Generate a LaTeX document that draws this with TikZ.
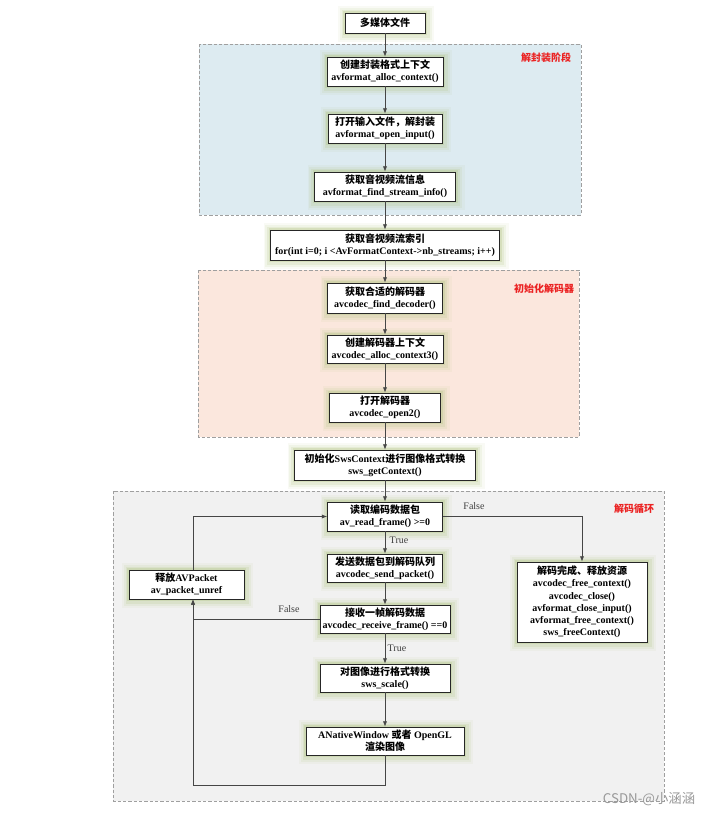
\documentclass[tikz,border=0pt]{standalone}
\usepackage{fontspec}
\setmainfont{Liberation Serif}
\newfontfamily\zhf{Noto Sans CJK SC}
\newcommand\zh[1]{{\zhf #1}}
\usetikzlibrary{arrows.meta}
\definecolor{glowc}{RGB}{178,196,130}
\definecolor{bluebg}{RGB}{221,235,241}
\definecolor{orangebg}{RGB}{251,231,221}
\definecolor{graybg}{RGB}{241,241,241}
\definecolor{redlab}{RGB}{235,35,35}
\definecolor{linec}{RGB}{70,70,70}
\tikzset{
  wh/.style 2 args={minimum width={#1*0.75pt},minimum height={#2*0.75pt}},
  box/.style={draw=black!85, line width=0.55pt, fill=white, inner sep=0.5pt, align=center,
    font=\bfseries\fontsize{7.5}{9.2}\selectfont,
    preaction={draw=glowc, line width=12pt, draw opacity=0.08, transform canvas={shift={(0.8pt,-0.8pt)}}},
    preaction={draw=glowc, line width=9pt, draw opacity=0.12, transform canvas={shift={(0.6pt,-0.6pt)}}},
    preaction={draw=glowc, line width=6pt, draw opacity=0.18, transform canvas={shift={(0.4pt,-0.4pt)}}},
    preaction={draw=glowc, line width=3pt, draw opacity=0.3}},
  region/.style={draw=gray!75, line width=0.6pt, dash pattern=on 2.5pt off 1.5pt},
  sec/.style={text=redlab, font=\bfseries\fontsize{7.5}{9}\selectfont, inner sep=0pt},
  cond/.style={text=black!75, font=\fontsize{7.5}{9}\selectfont, inner sep=0pt},
  arr/.style={draw=linec, line width=0.55pt, -{Latex[length=4pt,width=3.2pt]}},
}
\begin{document}
\begin{tikzpicture}[x=0.75pt,y=-0.75pt]
\useasboundingbox (0,0) rectangle (713,815);
% regions
\path[region, fill=bluebg] (199,44) rectangle (581,215);
\path[region, fill=orangebg] (198,270) rectangle (579,437);
\path[region, fill=graybg] (113,491) rectangle (664,801);
\node[sec] (s1) at (546,58) {\zh{解封装阶段}};
\node[sec] (s2) at (544,289) {\zh{初始化解码器}};
\node[sec] (s3) at (634,509) {\zh{解码循环}};
% nodes
\node[box, wh={80}{20}] (n0) at (385,23) {\zh{多媒体文件}};
\node[box, wh={116}{29}] (n1) at (385,71.5) {\zh{创建封装格式上下文}\\avformat\_alloc\_context()};
\node[box, wh={114}{29}] (n2) at (385,128.5) {\zh{打开输入文件，解封装}\\avformat\_open\_input()};
\node[box, wh={141}{29}] (n3) at (385,186.5) {\zh{获取音视频流信息}\\avformat\_find\_stream\_info()};
\node[box, wh={229}{30}] (n4) at (385,245) {\zh{获取音视频流索引}\\for(int i=0; i <AvFormatContext->nb\_streams; i++)};
\node[box, wh={115}{30}] (n5) at (385,298) {\zh{获取合适的解码器}\\avcodec\_find\_decoder()};
\node[box, wh={116}{28}] (n6) at (385,349) {\zh{创建解码器上下文}\\avcodec\_alloc\_context3()};
\node[box, wh={111}{29}] (n7) at (385,407.5) {\zh{打开解码器}\\avcodec\_open2()};
\node[box, wh={181}{30}] (n8) at (385,465) {\zh{初始化}SwsContext\zh{进行图像格式转换}\\sws\_getContext()};
\node[box, wh={115}{29}] (r1) at (385,516.5) {\zh{读取编码数据包}\\av\_read\_frame() >=0};
\node[box, wh={115}{28}] (r2) at (385,568) {\zh{发送数据包到解码队列}\\avcodec\_send\_packet()};
\node[box, wh={130}{28}] (r3) at (385,619) {\zh{接收一帧解码数据}\\avcodec\_receive\_frame() ==0};
\node[box, wh={130}{28}] (r4) at (385,678) {\zh{对图像进行格式转换}\\sws\_scale()};
\node[box, wh={158}{28}] (r5) at (385,741) {ANativeWindow \zh{或者} OpenGL\\\zh{渲染图像}};
\node[box, wh={115}{29}] (pk) at (186.5,584.5) {\zh{释放}AVPacket\\av\_packet\_unref};
\node[box, wh={130}{80}] (fin) at (582,602) {\zh{解码完成、释放资源}\\avcodec\_free\_context()\\avcodec\_close()\\avformat\_close\_input()\\avformat\_free\_context()\\sws\_freeContext()};
% main flow
\draw[arr] (n0) -- (n1);
\draw[arr] (n1) -- (n2);
\draw[arr] (n2) -- (n3);
\draw[arr] (n3) -- (n4);
\draw[arr] (n4) -- (n5);
\draw[arr] (n5) -- (n6);
\draw[arr] (n6) -- (n7);
\draw[arr] (n7) -- (n8);
\draw[arr] (n8) -- (r1);
\draw[arr] (r1) -- (r2);
\draw[arr] (r2) -- (r3);
\draw[arr] (r3) -- (r4);
\draw[arr] (r4) -- (r5);
\node[cond] (t1) at (399,540) {True};
\node[cond] (t2) at (397,648) {True};
% false branches
\draw[arr] (r1.east) -| (fin.north);
\node[cond] (f1) at (474,506) {False};
\coordinate (lx) at (193,0);
\coordinate (bot) at (0,785);
\draw[arr] (r3.west) -| (pk.south -| lx);
\node[cond] (f2) at (289,609) {False};
\draw[arr] (pk.north -| lx) |- (r1.west);
\draw[arr] (r5.south) |- (bot -| lx) -- (pk.south -| lx);
% watermark
\node[text=gray!80, font=\zhf\fontsize{10}{12}\selectfont, inner sep=0pt] (wm) at (649,799) {CSDN-@小涵涵};
\end{tikzpicture}
\end{document}
